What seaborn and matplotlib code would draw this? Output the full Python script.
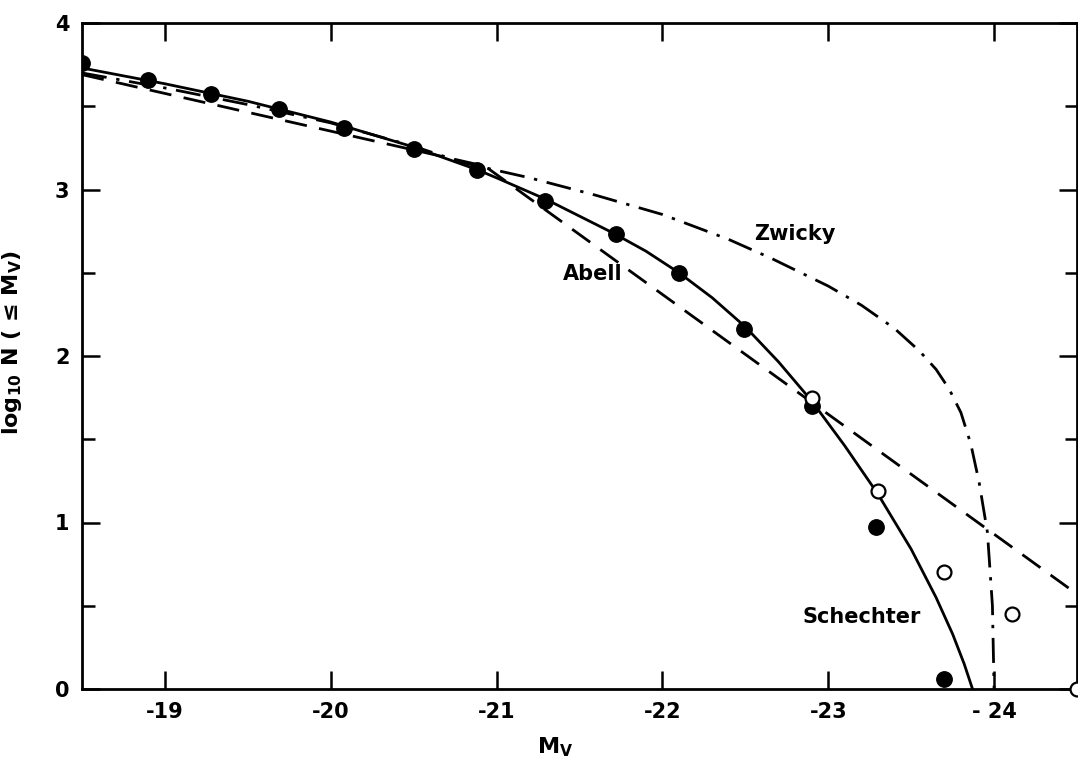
import numpy as np
import pandas as pd
import matplotlib
matplotlib.use("Agg")
import matplotlib.pyplot as plt
import seaborn as sns

# ---- data ----
# filled circles
mv_filled = [-18.50, -18.90, -19.28, -19.69, -20.08, -20.50, -20.88,
             -21.29, -21.72, -22.10, -22.49, -22.90, -23.29, -23.70]
logn_filled = [3.76, 3.66, 3.575, 3.485, 3.37, 3.245, 3.12,
               2.93, 2.73, 2.50, 2.165, 1.70, 0.97, 0.06]

# open circles
mv_open = [-22.90, -23.30, -23.70, -24.11, -24.50]
logn_open = [1.75, 1.19, 0.70, 0.45, 0.0]

# Schechter (solid)
mv_schechter = [-18.5, -19.0, -19.5, -20.0, -20.5, -20.88, -21.0, -21.3, -21.5,
                -21.7, -21.9, -22.1, -22.3, -22.5, -22.7, -22.9, -23.1, -23.3,
                -23.5, -23.65, -23.75, -23.82, -23.87]
logn_schechter = [3.73, 3.635, 3.53, 3.405, 3.255, 3.12, 3.07, 2.94, 2.84,
                  2.74, 2.63, 2.50, 2.35, 2.175, 1.965, 1.73, 1.46, 1.17,
                  0.84, 0.55, 0.33, 0.15, 0.0]

# Abell (dashed)
mv_abell = [-18.5, -20.93, -24.5]
logn_abell = [3.69, 3.14, 0.57]

# Zwicky (dash-dot)
mv_zwicky = [-18.5, -19.0, -19.5, -20.0, -20.5, -20.8, -21.2, -21.6, -22.0,
             -22.4, -22.66, -23.0, -23.2, -23.4, -23.55, -23.65, -23.73,
             -23.80, -23.86, -23.91, -23.96, -23.99, -24.0]
logn_zwicky = [3.70, 3.61, 3.51, 3.40, 3.26, 3.16, 3.07, 2.965, 2.85,
               2.70, 2.585, 2.42, 2.305, 2.165, 2.03, 1.92, 1.80,
               1.66, 1.47, 1.24, 0.94, 0.50, 0.0]

xticks = [-19, -20, -21, -22, -23, -24]
xtick_labels = ["-19", "-20", "-21", "-22", "-23", "- 24"]
yticks = [0, 1, 2, 3, 4]

# ---- style ----
sns.set_style("ticks")
plt.rcParams['font.family'] = ['DejaVu Sans']
plt.rcParams['axes.unicode_minus'] = False
plt.rcParams['mathtext.fontset'] = 'dejavusans'
plt.rcParams['text.color'] = 'black'
plt.rcParams['axes.labelcolor'] = 'black'

fig = plt.figure(figsize=(10.78, 7.62), dpi=100)
ax = fig.add_axes([82 / 1078, 73 / 762, 995 / 1078, 666 / 762])

sns.lineplot(x=mv_schechter, y=logn_schechter, ax=ax, color='black', lw=2.0,
             sort=False, estimator=None)
sns.lineplot(x=mv_abell, y=logn_abell, ax=ax, color='black', lw=2.0,
             sort=False, estimator=None)
ax.lines[-1].set_dashes((8, 4.5))
sns.lineplot(x=mv_zwicky, y=logn_zwicky, ax=ax, color='black', lw=2.0,
             sort=False, estimator=None)
ax.lines[-1].set_dashes((9, 3.5, 1.2, 3.5))

sns.scatterplot(x=mv_filled, y=logn_filled, ax=ax, s=125, color='black',
                edgecolor='black', zorder=5)
sns.scatterplot(x=mv_open, y=logn_open, ax=ax, s=100, facecolor='white',
                edgecolor='black', linewidth=1.6, zorder=5, clip_on=False)

ax.set_xlim(-18.5, -24.5)
ax.set_ylim(0, 4)

ax.set_xticks(xticks)
ax.set_xticklabels(xtick_labels)
ax.set_yticks(yticks)
ax.set_yticks([0.5, 1.5, 2.5, 3.5], minor=True)

ax.tick_params(which='both', direction='in', top=True, right=True,
               width=1.8, labelsize=15, colors='black')
ax.tick_params(which='major', length=13, pad=9)
ax.tick_params(which='minor', length=9)
for t in ax.get_xticklabels() + ax.get_yticklabels():
    t.set_fontweight('bold')

for s in ax.spines.values():
    s.set_linewidth(2.0)
    s.set_color('black')

ax.set_xlabel('M$_\\mathbf{V}$', fontsize=16, fontweight='bold')
ax.xaxis.set_label_coords(0.476, -0.07)
ax.set_ylabel('log$_\\mathbf{10}$ N ( ≤ M$_\\mathbf{V}$)', fontsize=16,
              fontweight='bold')
ax.yaxis.set_label_coords(-0.058, 0.52)

ax.text(-22.80, 2.735, 'Zwicky', fontsize=15, fontweight='bold',
        ha='center', va='center')
ax.text(-21.58, 2.49, 'Abell', fontsize=15, fontweight='bold',
        ha='center', va='center')
ax.text(-23.20, 0.43, 'Schechter', fontsize=15, fontweight='bold',
        ha='center', va='center')

fig.savefig('out.png', dpi=100, facecolor='white')
